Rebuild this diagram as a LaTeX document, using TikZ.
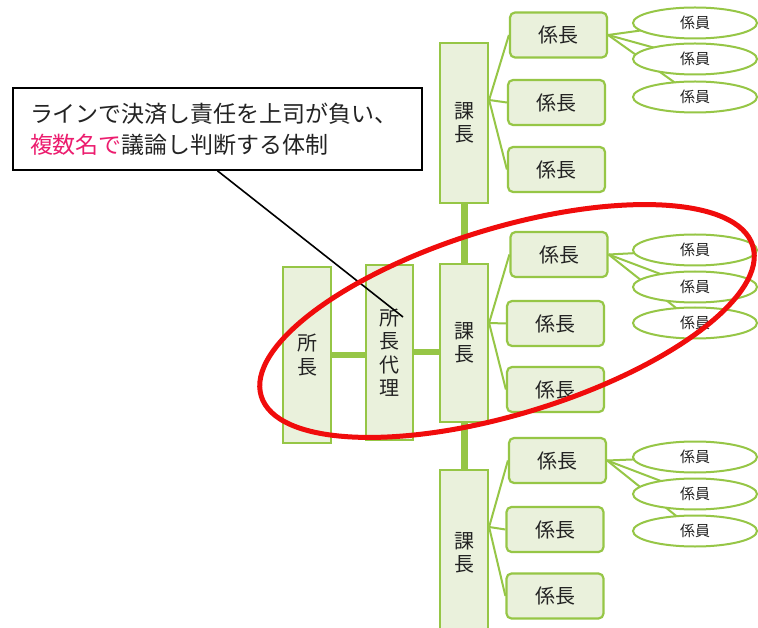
\documentclass[tikz,border=0pt]{standalone}
\usepackage{fontspec}
\newfontfamily\jp{Noto Sans CJK JP}
\usetikzlibrary{shapes.geometric,calc,backgrounds}
\definecolor{gline}{RGB}{150,198,70}
\definecolor{gfill}{RGB}{234,241,220}
\definecolor{txt}{RGB}{35,35,35}
\definecolor{pinkred}{RGB}{236,28,110}
\definecolor{ovalred}{RGB}{240,12,12}
\begin{document}
\begin{tikzpicture}[x=1pt,y=-1pt,
  vbox/.style={draw=gline,line width=2.2pt,fill=gfill,minimum width=48pt,minimum height=#1,inner sep=0pt,align=center,font=\jp\fontsize{20}{23.5}\selectfont,text=txt},
  kbox/.style={draw=gline,line width=2.2pt,fill=gfill,rounded corners=5pt,minimum width=97pt,minimum height=45pt,inner sep=0pt,font=\jp\fontsize{20}{22}\selectfont,text=txt},
  ebox/.style={ellipse,draw=gline,line width=2pt,fill=white,minimum width=124pt,minimum height=31pt,inner sep=0pt,font=\jp\fontsize{15}{18}\selectfont,text=txt},
  conn/.style={draw=gline,line width=2pt},
  trunk/.style={draw=gline,line width=7pt},
  callbox/.style={draw=black,line width=1.6pt,fill=white,minimum width=409pt,minimum height=82pt,text width=375pt,inner xsep=17pt,align=left,font=\jp\fontsize{23}{31}\selectfont,text=txt},
  ring/.style={draw=ovalred,line width=5pt}]
\useasboundingbox (0,0) rectangle (758,628);

% top group
\node[vbox=160pt] (ka1) at (464,123) {課\\長};
\node[kbox] (k11) at (558.5,35) {係長};
\node[kbox] (k12) at (556.5,102.5) {係長};
\node[kbox] (k13) at (556.5,169.5) {係長};
\node[ebox] (e11) at (695,23) {係員};
\node[ebox] (e12) at (695,59) {係員};
\node[ebox] (e13) at (695,97) {係員};

% middle group
\node[vbox=158pt] (ka2) at (464,343) {課\\長};
\node[kbox] (k21) at (559,254.5) {係長};
\node[kbox] (k22) at (555.5,323.5) {係長};
\node[kbox] (k23) at (555.5,389.5) {係長};
\node[ebox] (e21) at (695,250) {係員};
\node[ebox] (e22) at (695,287) {係員};
\node[ebox] (e23) at (695,323) {係員};

% bottom group
\node[vbox=166pt] (ka3) at (464,553) {課\\長};
\node[kbox] (k31) at (557.5,460.5) {係長};
\node[kbox] (k32) at (555,529.5) {係長};
\node[kbox] (k33) at (555,596) {係長};
\node[ebox] (e31) at (695,457) {係員};
\node[ebox] (e32) at (695,494) {係員};
\node[ebox] (e33) at (695,531) {係員};

% left part
\node[vbox=176pt] (sho) at (307,355) {所\\長};
\node[vbox=175pt,minimum width=47pt] (dai) at (389.5,352.5) {所\\長\\代\\理};

\begin{scope}[on background layer]
\fill[white] (0,0) rectangle (758,628);
% trunk and horizontal links
\draw[trunk] (ka1.south) -- (ka2.north);
\draw[trunk] (ka2.south) -- (ka3.north);
\draw[line width=6pt,draw=gline] (sho.east) -- (sho.east -| dai.west);
\draw[line width=6pt,draw=gline] (dai.east) -- (dai.east -| ka2.west);
% 課長 -> 係長, 係長 -> 係員
\coordinate (o1) at ($(ka1.east)+(0,-23)$);
\coordinate (o2) at ($(ka2.east)+(0,-20)$);
\coordinate (o3) at ($(ka3.east)+(0,-26)$);
\foreach \g in {1,2,3}{
  \foreach \k in {1,2,3}{
    \draw[conn] (o\g) -- (k\g\k.west);
  }
  \foreach \e in {1,2,3}{
    \draw[conn] (k\g1.east) -- (e\g\e.center);
  }
}
\end{scope}

% callout
\node[callbox] (callout) at (217.5,129) {ラインで決済し責任を上司が負い、\\{\color{pinkred}複数名で}議論し判断する体制};
\coordinate (tip) at (403,317);
\draw[black,line width=1.6pt] (callout.south) -- (tip);

% red ring
\draw[ring,rotate around={17:(507,321)}] (507,321) ellipse [x radius=257, y radius=93];
\end{tikzpicture}
\end{document}
